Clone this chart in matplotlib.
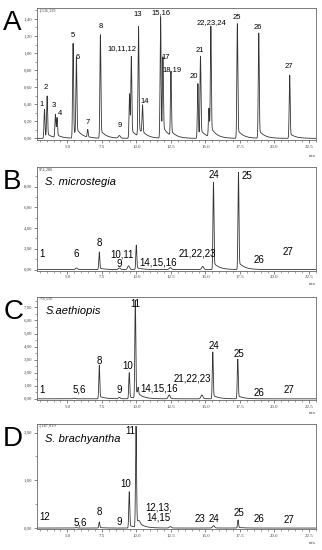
import numpy as np
import matplotlib
matplotlib.use('Agg')
import matplotlib.pyplot as plt
from matplotlib.ticker import MultipleLocator, FuncFormatter

plt.rcParams['font.family'] = ['Liberation Sans', 'DejaVu Sans']

# ---- data: retention time (min) and peak height for each chromatogram ----
# A: standard mixture (x 10^6)
a_rt = [3.34, 3.53, 4.13, 4.25, 5.41, 5.65, 6.47, 7.39, 8.76, 9.50, 9.63,
        10.15, 10.44, 11.75, 11.92, 12.50, 14.45, 14.64, 15.25, 15.39, 17.31,
        18.86, 21.10]
a_h = [0.34, 0.48, 0.27, 0.22, 1.11, 0.90, 0.09, 1.21, 0.03, 0.52, 0.93,
       1.28, 0.33, 1.42, 0.88, 0.75, 0.64, 0.93, 0.33, 1.28, 1.34,
       1.23, 0.74]
# B: S. microstegia (x 10^5)
b_rt = [5.65, 7.31, 8.76, 9.43, 9.99, 12.45, 14.80, 15.58, 17.39]
b_h = [0.15, 1.70, 0.15, 0.35, 2.35, 0.20, 0.30, 8.40, 9.35]
# C: S. aethiopis (x 10^5)
c_rt = [5.50, 7.31, 8.76, 9.48, 9.92, 10.12, 12.37, 14.74, 15.53, 17.34]
c_h = [0.05, 2.58, 0.10, 2.00, 7.47, 0.50, 0.30, 0.30, 3.58, 3.03]
# D: S. brachyantha (x 10^6)
d_rt = [5.60, 7.31, 9.48, 9.97, 10.20, 12.45, 15.58, 17.36]
d_h = [0.01, 0.13, 0.76, 2.11, 0.05, 0.03, 0.05, 0.17]

panel_letters = ['A', 'B', 'C', 'D']
species = [None, 'S. microstegia', 'S.aethiopis', 'S. brachyantha']
max_counts = ['1,536,339', '974,280', '778,556', '2,187,819']
y_max = [1.525, 9.86, 7.8, 2.18]
y_major = [0.2, 2.0, 1.0, 1.0]

a_labels = [('1', 3.12, 0.40), ('2', 3.46, 0.60), ('3', 4.01, 0.38),
            ('4', 4.44, 0.29), ('5', 5.41, 1.20), ('6', 5.72, 0.95),
            ('7', 6.45, 0.19), ('8', 7.39, 1.31), ('9', 8.76, 0.155),
            ('10,11,12', 8.95, 1.05), ('13', 10.08, 1.45), ('14', 10.59, 0.43),
            ('15,16', 11.75, 1.48), ('17', 12.11, 0.95), ('18,19', 12.57, 0.81),
            ('20', 14.16, 0.73), ('21', 14.59, 1.03), ('22,23,24', 15.43, 1.36),
            ('25', 17.27, 1.42), ('26', 18.83, 1.30), ('27', 21.07, 0.84)]
b_labels = [('1', 3.17, 1.49), ('6', 5.65, 1.49), ('8', 7.31, 2.6),
            ('10,11', 8.95, 1.49), ('9', 8.76, 0.56), ('14,15,16', 11.6, 0.72),
            ('21,22,23', 14.42, 1.58), ('24', 15.58, 9.1), ('25', 18.0, 9.04),
            ('26', 18.88, 0.96), ('27', 21.0, 1.65)]
c_labels = [('1', 3.17, 0.7), ('5,6', 5.87, 0.7), ('8', 7.33, 2.88),
            ('9', 8.76, 0.7), ('10', 9.39, 2.5), ('11', 9.89, 7.27),
            ('14,15,16', 11.67, 0.77), ('21,22,23', 14.07, 1.58),
            ('24', 15.58, 4.04), ('25', 17.39, 3.46), ('26', 18.9, 0.45),
            ('27', 21.03, 0.65)]
d_labels = [('12', 3.36, 0.24), ('5,6', 5.94, 0.12), ('8', 7.33, 0.34),
            ('9', 8.76, 0.13), ('10', 9.24, 0.92), ('11', 9.56, 2.03),
            ('12,13,\n14,15', 11.6, 0.33), ('23', 14.62, 0.19),
            ('24', 15.63, 0.2), ('25', 17.43, 0.31), ('26', 18.88, 0.18),
            ('27', 21.03, 0.17)]

rts = [a_rt, b_rt, c_rt, d_rt]
hs = [a_h, b_h, c_h, d_h]
labels = [a_labels, b_labels, c_labels, d_labels]

# axes rectangles in figure fraction
rects = [[0.115, 0.746, 0.866, 0.239],
         [0.115, 0.508, 0.866, 0.188],
         [0.115, 0.273, 0.866, 0.187],
         [0.115, 0.038, 0.866, 0.191]]

t = np.linspace(2.8, 23.0, 8000)


def trace(rt, h):
    y = np.zeros_like(t)
    for t0, hh in zip(rt, h):
        sig = 0.035 if hh > 0.05 * max(h) else 0.07
        y += hh * np.exp(-0.5 * ((t - t0) / sig) ** 2)
        # tailing after each peak
        dt = np.clip(t - t0, 0, None)
        y += np.where(t > t0, 0.08 * hh * np.exp(-dt / 0.4), 0) * (1 - np.exp(-dt / 0.04))
    return y


fig = plt.figure(figsize=(3.22, 5.5), dpi=100)

for i in range(4):
    ax = fig.add_axes(rects[i])
    y = trace(rts[i], hs[i])
    ax.plot(t, y, color='#333333', lw=0.6)
    ax.set_xlim(2.8, 23.0)
    ax.set_ylim(-0.01 * y_max[i], y_max[i])
    ax.xaxis.set_major_locator(MultipleLocator(2.5))
    ax.xaxis.set_minor_locator(MultipleLocator(0.5))
    ax.yaxis.set_major_locator(MultipleLocator(y_major[i]))
    ax.yaxis.set_minor_locator(MultipleLocator(y_major[i] / 2))
    ax.xaxis.set_major_formatter(FuncFormatter(lambda v, p: '%.1f' % v if v >= 4 else ''))
    ax.yaxis.set_major_formatter(FuncFormatter(lambda v, p: ('%.2f' % v).replace('.', ',')))
    ax.tick_params(which='major', length=2.5, width=0.5, color='#555555',
                   labelsize=3.5, pad=1, labelcolor='#444444')
    ax.tick_params(which='minor', length=1.5, width=0.4, color='#555555')
    for lab in ax.get_xticklabels() + ax.get_yticklabels():
        lab.set_family('Liberation Serif')
    for s in ax.spines.values():
        s.set_linewidth(0.6)
        s.set_color('#666666')
    fig.text(0.01, rects[i][1] + rects[i][3] - 0.004, panel_letters[i],
             fontsize=20, va='top', ha='left')
    ax.text(0.005, 0.997, max_counts[i], transform=ax.transAxes, fontsize=3.2,
            va='top', ha='left', family='Liberation Serif', color='#444444')
    ax.text(1.0, -0.11, 'min', transform=ax.transAxes, fontsize=3.2,
            va='top', ha='right', family='Liberation Serif', color='#444444')
    if species[i]:
        ax.text(3.4, y_max[i] * 0.86, species[i], fontsize=8, style='italic',
                va='center', ha='left')
    fs = 5.5 if i == 0 else 7
    for txt, x, yy in labels[i]:
        ax.text(x, yy, txt, fontsize=fs, ha='center', va='center',
                linespacing=1.0)

fig.savefig('out.png', dpi=100)
